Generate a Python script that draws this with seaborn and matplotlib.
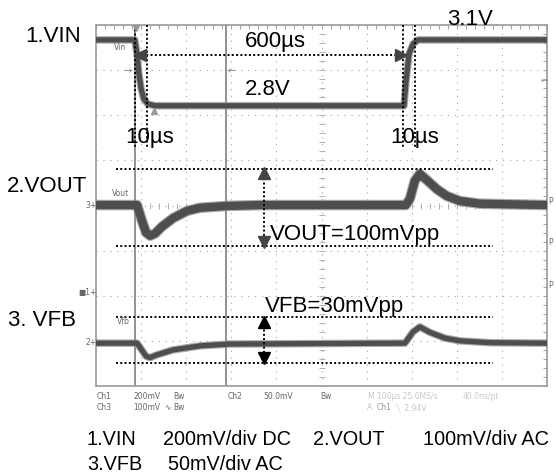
import numpy as np
import matplotlib
matplotlib.use("Agg")
import matplotlib.pyplot as plt
import seaborn as sns

# ---- data: time in microseconds, level in screen divisions (0 = bottom, 8 = top)
vin_t = [0, 86, 91, 95, 100, 106, 115, 131, 683, 687, 694, 703, 714, 1000]
vin_v = [7.67, 7.67, 7.36, 6.92, 6.59, 6.36, 6.25, 6.21, 6.21, 6.70, 7.36, 7.58, 7.67, 7.67]

vout_t = [0, 91, 102, 111, 120, 131, 146, 171, 202, 231, 290, 364, 687, 696, 707, 718,
          734, 756, 778, 807, 851, 1000]
vout_v = [4.01, 4.01, 3.66, 3.40, 3.33, 3.38, 3.53, 3.72, 3.88, 3.95, 3.99, 4.01, 4.01, 4.15,
          4.55, 4.70, 4.56, 4.36, 4.21, 4.10, 4.04, 4.01]

vfb_t = [0, 91, 100, 111, 120, 135, 171, 231, 297, 685, 703, 718, 740, 774, 807, 874, 1000]
vfb_v = [0.95, 0.95, 0.82, 0.66, 0.63, 0.69, 0.80, 0.89, 0.93, 0.95, 1.20, 1.31, 1.19,
         1.06, 1.00, 0.96, 0.95]

labels_left = ["1.VIN", "2.VOUT", "3. VFB"]
caption_row1 = ["1.VIN", "200mV/div DC", "2.VOUT", "100mV/div AC"]
caption_row2 = ["3.VFB", "50mV/div AC"]

sns.set_style("white")
plt.rcParams["font.family"] = ["Liberation Sans", "DejaVu Sans"]

W, H = 556, 477
fig = plt.figure(figsize=(W / 100, H / 100), dpi=100)
L, R, T, B = 96, 547, 26, 387
ax = fig.add_axes([L / W, 1 - B / H, (R - L) / W, (B - T) / H])

def X(px):
    return (px - L) / (R - L) * 1000

def Y(py):
    return (B - py) / (B - T) * 8

def ftext(px, py, s, **kw):
    fig.text(px / W, 1 - py / H, s, **kw)

# ---- screen grid
ax.set_xlim(0, 1000)
ax.set_ylim(0, 8)
ax.set_xticks(np.arange(0, 1001, 100))
ax.set_yticks(np.arange(0, 9, 1))
ax.set_xticks(np.arange(0, 1001, 20), minor=True)
ax.set_yticks(np.arange(0, 8.01, 0.2), minor=True)
ax.tick_params(which="both", direction="in", length=3, color="#a8a8a8", width=0.8,
               top=True, right=True, labelbottom=False, labelleft=False)
ax.grid(which="major", color="#b0b0b0", linestyle=(0, (1.2, 5)), linewidth=0.8)
for s in ax.spines.values():
    s.set_color("#9a9a9a")
    s.set_linewidth(1.2)
# center cross ticks
cx = np.arange(0, 1001, 20)
ax.plot(cx, np.full(cx.shape, 4.0), lw=0, marker="|", ms=4, color="#b0b0b0", mew=0.7)
cy = np.arange(0, 8.01, 0.2)
ax.plot(np.full(cy.shape, 500.0), cy, lw=0, marker="_", ms=4, color="#b0b0b0", mew=0.7)

# solid cursor lines
for px in (135, 226):
    ax.axvline(X(px), color="#8a8a8a", lw=1.3, zorder=2)

# ---- traces (fuzzy halo + core)
halo = "#8a8a8a"
core = "#4e4e4e"
for t, v, lw in ((vin_t, vin_v, 3.8), (vout_t, vout_v, 6.0), (vfb_t, vfb_v, 3.8)):
    sns.lineplot(x=t, y=v, ax=ax, color=halo, linewidth=lw + 1.6, alpha=0.7,
                 estimator=None, sort=False, zorder=3)
    sns.lineplot(x=t, y=v, ax=ax, color=core, linewidth=lw, estimator=None,
                 sort=False, zorder=4)

# ---- annotation lines
dot = dict(color="black", lw=1.4, linestyle=(0, (1, 1.2)), zorder=5)
ax.plot([X(147), X(147)], [Y(26), Y(150)], **dot)
ax.plot([X(135), X(135)], [Y(26), Y(150)], **dot)
ax.plot([X(403), X(403)], [Y(26), Y(148)], **dot)
ax.plot([X(415), X(415)], [Y(26), Y(148)], **dot)
ax.plot([X(142), X(400)], [Y(56), Y(56)], **dot)
ax.plot([X(140)], [Y(56)], marker="<", ms=9, color="#444", zorder=6)
ax.plot([X(401)], [Y(56)], marker=">", ms=9, color="#444", zorder=6)

for py in (170, 247, 318, 364):
    ax.plot([X(116), X(493)], [Y(py), Y(py)], **dot)

ax.plot([X(264), X(264)], [Y(175), Y(242)], **dot)
ax.plot([X(264)], [Y(174)], marker="^", ms=9, color="#444", zorder=6)
ax.plot([X(264)], [Y(243)], marker="v", ms=9, color="#444", zorder=6)
ax.plot([X(264), X(264)], [Y(322), Y(360)], **dot)
ax.plot([X(264)], [Y(323)], marker="^", ms=9, color="black", zorder=6)
ax.plot([X(264)], [Y(359)], marker="v", ms=9, color="black", zorder=6)

# small scope markers
ax.plot([X(136)], [Y(29)], marker="v", ms=5, color="#999", zorder=6)
ax.plot([X(154)], [Y(112)], marker="^", ms=5, color="#999", zorder=6)
ftext(124, 71, "\u2192", fontsize=7, color="#888", va="center", family="DejaVu Sans")
ftext(228, 71, "\u2190", fontsize=7, color="#888", va="center", family="DejaVu Sans")
ftext(541, 80, "\u2190", fontsize=6, color="#888", va="center", family="DejaVu Sans")

# ---- big labels
big = dict(fontsize=16, color="black", va="baseline")
ftext(25, 42, labels_left[0], **big)
ftext(7, 192, labels_left[1], **big)
ftext(8, 326, labels_left[2], **big)
ftext(245, 47, "600\u00b5s", **big)
ftext(245, 95, "2.8V", **big)
ftext(447, 25, "3.1V", **big)
ftext(125, 143, "10\u00b5s", **big)
ftext(390, 143, "10\u00b5s", **big)
ftext(270, 240, "VOUT=100mVpp", **big)
ftext(265, 312, "VFB=30mVpp", **big)

# ---- small scope texts
sm = dict(fontsize=5.5, color="#666", va="center", family="DejaVu Sans")
ftext(114, 47, "Vin", **sm)
ftext(112, 193, "Vout", **sm)
ftext(117, 322, "Vfb", **sm)
ftext(97, 206, "3+", ha="right", **sm)
ftext(97, 343, "2+", ha="right", **sm)
ftext(97, 292, "\u25a01+", ha="right", **sm)
for py in (202, 243, 286):
    ftext(548, py, "P", **sm)

r1, r2 = 397, 408
ftext(97, r1, "Ch1", **sm)
ftext(133, r1, "200mV", **sm)
ftext(173, r1, "Bw", **sm)
ftext(228, r1, "Ch2", **sm)
ftext(263, r1, "50.0mV", **sm)
ftext(320, r1, "Bw", **sm)
light = dict(sm, color="#c8c8c8")
ftext(368, r1, "M 100\u00b5s 25.0MS/s", **light)
ftext(463, r1, "40.0ns/pt", **light)
ftext(97, r2, "Ch3", **sm)
ftext(133, r2, "100mV", **sm)
ftext(164, r2, "\u223f", **sm)
ftext(173, r2, "Bw", **sm)
ftext(367, r2, "A", **light)
ftext(377, r2, "Ch1", **dict(sm, color="#999"))
ftext(395, r2, "\u2572  2.94V", **light)

# ---- caption
cap = dict(fontsize=14.3, color="black", va="baseline")
ftext(87, 445, caption_row1[0], **cap)
ftext(163, 445, caption_row1[1], **cap)
ftext(313, 445, caption_row1[2], **cap)
ftext(423, 445, caption_row1[3], **cap)
ftext(87, 470, caption_row2[0], **cap)
ftext(168, 470, caption_row2[1], **cap)

fig.savefig("out.png", dpi=100)
